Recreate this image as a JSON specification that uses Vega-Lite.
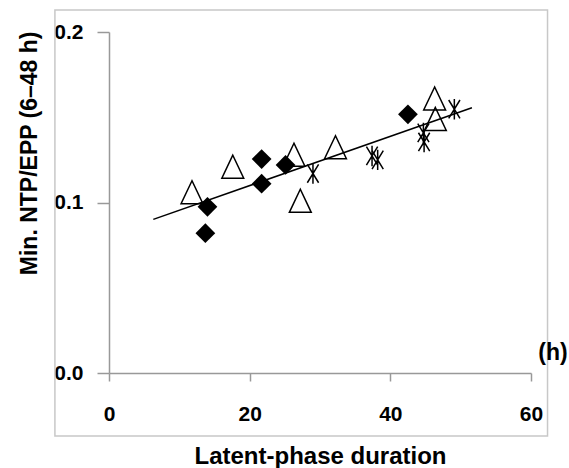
{
  "$schema": "https://vega.github.io/schema/vega-lite/v6.json",
  "width": 422,
  "height": 341,
  "autosize": "none",
  "padding": {"left": 109, "top": 32, "right": 38, "bottom": 95},
  "background": "white",
  "config": {
    "view": {"stroke": null},
    "font": "Liberation Sans",
    "axis": {
      "grid": false, "domainColor": "#999999", "domainWidth": 1.5, "tickColor": "#999999", "tickWidth": 1.5,
      "labelFontSize": 21, "labelFontWeight": "bold", "labelColor": "#000000", "labelFlush": false,
      "titleFontWeight": "bold", "titleColor": "#000000"
    },
    "axisX": {"tickSize": 8, "labelPadding": 22, "titleY": 90, "titleBaseline": "alphabetic", "titleFontSize": 24},
    "axisY": {"tickSize": 12, "labelPadding": 14, "labelBaseline": "middle", "titleFontSize": 23, "titleAngle": -90, "titleX": -73, "titleY": -1, "titleAlign": "right", "titleBaseline": "alphabetic"}
  },
  "datasets": {
    "triangles": [
      {"x": 11.8, "y": 0.106},
      {"x": 17.6, "y": 0.121},
      {"x": 26.3, "y": 0.128},
      {"x": 27.2, "y": 0.101},
      {"x": 32.2, "y": 0.1324},
      {"x": 46.3, "y": 0.161},
      {"x": 46.4, "y": 0.149}
    ],
    "asterisks": [
      {"x": 29.0, "y": 0.117},
      {"x": 37.4, "y": 0.1273},
      {"x": 38.2, "y": 0.125},
      {"x": 44.7, "y": 0.1408},
      {"x": 44.8, "y": 0.1355},
      {"x": 49.1, "y": 0.1547}
    ],
    "diamonds": [
      {"x": 13.7, "y": 0.082},
      {"x": 14.0, "y": 0.0975},
      {"x": 21.7, "y": 0.1255},
      {"x": 21.7, "y": 0.111},
      {"x": 25.1, "y": 0.122},
      {"x": 42.5, "y": 0.1517}
    ],
    "fit": [
      {"x": 6.3, "y": 0.0901},
      {"x": 51.6, "y": 0.1556}
    ],
    "unit": [{"label": "(h)"}]
  },
  "layer": [
    {
      "data": {"name": "unit"},
      "mark": {"type": "rect", "fill": null, "filled": false, "stroke": "#c8c8c8", "strokeWidth": 1.5},
      "encoding": {
        "x": {"datum": -7.69, "type": "quantitative", "scale": {"domain": [0, 60], "nice": false},
          "axis": {"values": [0, 20, 40, 60], "title": "Latent-phase duration"}},
        "x2": {"datum": 62.35},
        "y": {"datum": -0.037, "type": "quantitative", "scale": {"domain": [0, 0.2], "nice": false},
          "axis": {"values": [0, 0.1, 0.2], "format": ".1f", "title": "Min. NTP/EPP (6–48 h)"}},
        "y2": {"datum": 0.2129}
      }
    },
    {
      "data": {"name": "triangles"},
      "mark": {"type": "point", "shape": "M0,-1L-0.95,1L0.95,1Z", "filled": false, "stroke": "black", "strokeWidth": 1.5, "size": 530, "opacity": 1},
      "encoding": {
        "x": {"field": "x", "type": "quantitative", "scale": {"domain": [0, 60], "nice": false},
          "axis": {"values": [0, 20, 40, 60], "title": "Latent-phase duration"}},
        "y": {"field": "y", "type": "quantitative", "scale": {"domain": [0, 0.2], "nice": false},
          "axis": {"values": [0, 0.1, 0.2], "format": ".1f", "title": "Min. NTP/EPP (6–48 h)"}}
      }
    },
    {
      "data": {"name": "fit"},
      "mark": {"type": "line", "color": "black", "strokeWidth": 1.5},
      "encoding": {
        "x": {"field": "x", "type": "quantitative", "scale": {"domain": [0, 60], "nice": false},
          "axis": {"values": [0, 20, 40, 60], "title": "Latent-phase duration"}},
        "y": {"field": "y", "type": "quantitative", "scale": {"domain": [0, 0.2], "nice": false},
          "axis": {"values": [0, 0.1, 0.2], "format": ".1f", "title": "Min. NTP/EPP (6–48 h)"}}
      }
    },
    {
      "data": {"name": "asterisks"},
      "mark": {"type": "point", "shape": "M0,-1L0,1M-0.55,-0.9L0.55,0.9M0.55,-0.9L-0.55,0.9", "filled": false, "stroke": "black", "strokeWidth": 1.5, "size": 420, "opacity": 1},
      "encoding": {
        "x": {"field": "x", "type": "quantitative", "scale": {"domain": [0, 60], "nice": false},
          "axis": {"values": [0, 20, 40, 60], "title": "Latent-phase duration"}},
        "y": {"field": "y", "type": "quantitative", "scale": {"domain": [0, 0.2], "nice": false},
          "axis": {"values": [0, 0.1, 0.2], "format": ".1f", "title": "Min. NTP/EPP (6–48 h)"}}
      }
    },
    {
      "data": {"name": "diamonds"},
      "mark": {"type": "point", "shape": "diamond", "filled": true, "color": "black", "size": 390, "opacity": 1},
      "encoding": {
        "x": {"field": "x", "type": "quantitative", "scale": {"domain": [0, 60], "nice": false},
          "axis": {"values": [0, 20, 40, 60], "title": "Latent-phase duration"}},
        "y": {"field": "y", "type": "quantitative", "scale": {"domain": [0, 0.2], "nice": false},
          "axis": {"values": [0, 0.1, 0.2], "format": ".1f", "title": "Min. NTP/EPP (6–48 h)"}}
      }
    },
    {
      "data": {"name": "unit"},
      "mark": {"type": "text", "fontSize": 23, "fontWeight": "bold", "color": "black", "dx": 22, "dy": -20, "baseline": "middle", "align": "center"},
      "encoding": {
        "x": {"datum": 60, "type": "quantitative", "scale": {"domain": [0, 60], "nice": false},
          "axis": {"values": [0, 20, 40, 60], "title": "Latent-phase duration"}},
        "y": {"datum": 0, "type": "quantitative", "scale": {"domain": [0, 0.2], "nice": false},
          "axis": {"values": [0, 0.1, 0.2], "format": ".1f", "title": "Min. NTP/EPP (6–48 h)"}},
        "text": {"field": "label"}
      }
    }
  ]
}
